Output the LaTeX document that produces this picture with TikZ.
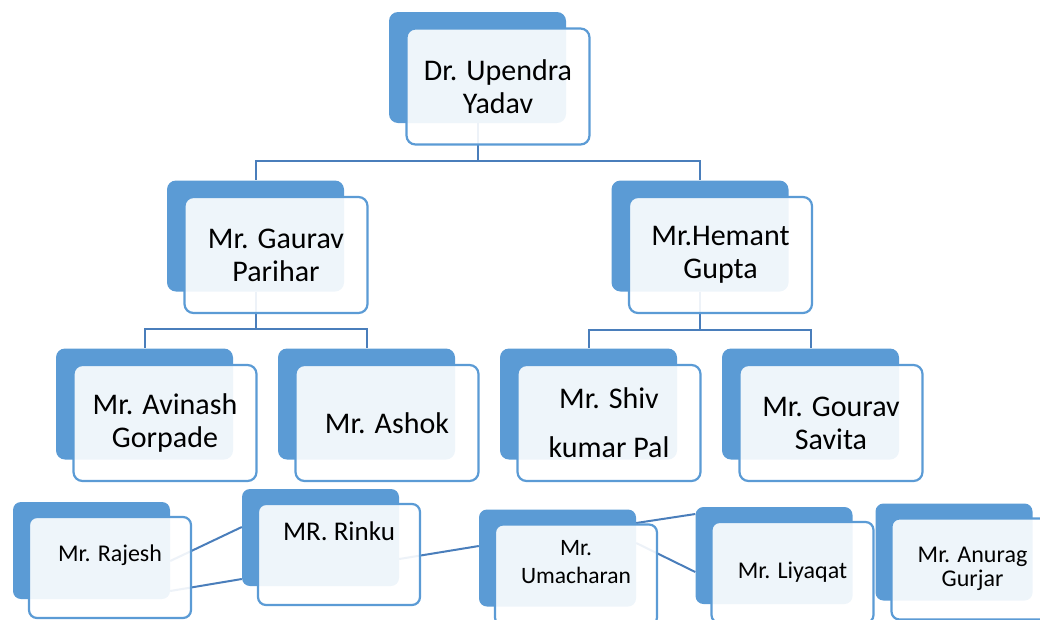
\documentclass[tikz,border=0pt]{standalone}
\usepackage{fontspec}
\setmainfont{Carlito}
\definecolor{boxblue}{HTML}{5B9BD5}
\definecolor{lineblue}{HTML}{4A7EBB}

\begin{document}
\begin{tikzpicture}[x = 1pt, y = -1pt,
	backbox/.style = {fill = boxblue, rounded corners = 9pt, minimum width = 177pt, minimum height = 111pt, inner sep = 0pt},
	frontbox/.style = {draw = boxblue, line width = 2.2pt, fill = white, fill opacity = 0.9, text opacity = 1, rounded corners = 9pt, minimum width = 183pt, minimum height = 116pt, inner sep = 0pt, align = center, font = \fontsize{30}{33}\selectfont},
	smallback/.style = {backbox, rounded corners = 8pt, minimum width = 157pt, minimum height = 97pt},
	smallfront/.style = {frontbox, rounded corners = 8pt, minimum width = 162pt, minimum height = 101pt, font = \fontsize{24}{24}\selectfont},
	smalltext/.style = {align = center, inner sep = 0pt, font = \fontsize{24}{24}\selectfont},
	link/.style = {draw = lineblue, line width = 2pt}]

	\useasboundingbox (0, 0) rectangle (1040, 619);

	% Back boxes
	
	\node [backbox] (upendra) at (477.5, 67.5) {};
	
	\node [backbox] (gaurav) at (255.5, 236) {};
	\node [backbox] (hemant) at (700, 236) {};
	
	\node [backbox] (avinash) at (144.5, 404) {};
	\node [backbox] (ashok) at (366.5, 404) {};
	\node [backbox] (shiv) at (588.5, 404) {};
	\node [backbox] (gourav) at (810.5, 404) {};
	
	\node [smallback] (rajesh) at (91.5, 550.5) {};
	\node [smallback] (rinku) at (320.5, 537.5) {};
	\node [smallback] (umacharan) at (557.5, 558) {};
	\node [smallback] (liyaqat) at (774, 555.5) {};
	\node [smallback] (anurag) at (954, 552) {};
	
	% Tree connectors
	
	\draw [link] (upendra.south) -- ++(0, 38) -| (gaurav.north);
	\draw [link] (upendra.south) -- ++(0, 38) -| (hemant.north);
	
	\draw [link] (gaurav.south) -- ++(0, 37.5) -| (avinash.north);
	\draw [link] (gaurav.south) -- ++(0, 37.5) -| (ashok.north);
	
	\draw [link] (hemant.south) -- ++(0, 38.5) -| (shiv.north);
	\draw [link] (hemant.south) -- ++(0, 38.5) -| (gourav.north);
	
	% Loose links on the bottom row
	
	\draw [link] ([yshift = -10.5pt]rajesh.east) -- ([yshift = 10.5pt]rinku.west);
	\draw [link] ([yshift = -40.5pt]rajesh.east) -- ([yshift = -41.5pt]rinku.west);
	\draw [link] ([yshift = -21.5pt]rinku.east) -- ([yshift = 12pt]umacharan.west);
	\draw [link] ([yshift = 35pt]umacharan.east) -- ([yshift = 41.5pt]liyaqat.west);
	\draw [link] ([yshift = 15pt]umacharan.east) -- ([yshift = -16.5pt]liyaqat.west);
	
	% Front boxes
	
	\node [frontbox] (upendra-f) at ([shift = {(20.5, 19)}]upendra) {Dr. Upendra\\Yadav};
	
	\node [frontbox] (gaurav-f) at ([shift = {(20.5, 19)}]gaurav) {Mr. Gaurav\\Parihar};
	\node [frontbox] (hemant-f) at ([shift = {(20.5, 19)}]hemant) {Mr.Hemant\\Gupta};
	
	\node [frontbox] (avinash-f) at ([shift = {(20.5, 19)}]avinash) {Mr. Avinash\\Gorpade};
	\node [frontbox] (ashok-f) at ([shift = {(20.5, 19)}]ashok) {Mr. Ashok};
	\node [frontbox] (shiv-f) at ([shift = {(20.5, 19)}]shiv) {Mr. Shiv\\[16pt]kumar Pal};
	\node [frontbox] (gourav-f) at ([shift = {(20.5, 19)}]gourav) {Mr. Gourav\\Savita};
	
	\node [smallfront] (rajesh-f) at ([shift = {(18.5, 17)}]rajesh) {};
	\node [smallfront] (rinku-f) at ([shift = {(18.5, 17)}]rinku) {};
	\node [smallfront] (umacharan-f) at ([shift = {(18.5, 17)}]umacharan) {};
	\node [smallfront] (liyaqat-f) at ([shift = {(18.5, 17)}]liyaqat) {Mr. Liyaqat};
	\node [smallfront] (anurag-f) at ([shift = {(18.5, 17)}]anurag) {Mr. Anurag\\Gurjar};
	
	\node [smalltext] (rajesh-t) at ([yshift = 12.5pt]rajesh-f) {Mr. Rajesh};
	\node [smalltext, font = \fontsize{27}{27}\selectfont] (rinku-t) at ([yshift = 23.5pt]rinku-f) {MR. Rinku};
	\node [smalltext, font = \fontsize{23.5}{28}\selectfont] (umacharan-t) at ([yshift = 13pt]umacharan-f) {Mr.\\Umacharan};
	
\end{tikzpicture}
\end{document}
